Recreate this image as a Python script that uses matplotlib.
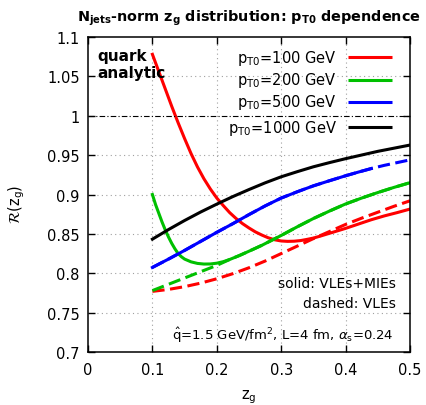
import matplotlib
matplotlib.use("Agg")
import matplotlib.pyplot as plt
import numpy as np

# z_g の値と各 p_T0 の比 R(z_g)
# 実線: VLEs+MIEs, 破線: VLEs のみ
z_100_full = [0.10, 0.11, 0.12, 0.13, 0.14, 0.15, 0.16, 0.17, 0.18, 0.19,
              0.20, 0.21, 0.22, 0.23, 0.24, 0.25, 0.26, 0.27, 0.28, 0.29,
              0.30, 0.31, 0.32, 0.33, 0.34, 0.35, 0.36, 0.37, 0.38, 0.39,
              0.40, 0.42, 0.44, 0.46, 0.48, 0.50]
r_100_full = [1.078, 1.056, 1.034, 1.012, 0.991, 0.971, 0.952, 0.935, 0.920, 0.907,
              0.8955, 0.886, 0.877, 0.8695, 0.863, 0.8575, 0.8525, 0.8485, 0.845, 0.8425,
              0.841, 0.8405, 0.8407, 0.8415, 0.843, 0.8447, 0.847, 0.8495, 0.852, 0.8545,
              0.857, 0.8625, 0.868, 0.8728, 0.877, 0.8815]

z_100_vle = [0.100, 0.125, 0.150, 0.175, 0.200, 0.225, 0.250, 0.275, 0.300,
             0.325, 0.350, 0.375, 0.400, 0.425, 0.450, 0.475, 0.500]
r_100_vle = [0.777, 0.7795, 0.783, 0.7875, 0.793, 0.7995, 0.807, 0.8155, 0.825,
             0.8345, 0.844, 0.853, 0.862, 0.870, 0.8775, 0.885, 0.892]

z_200_full = [0.100, 0.105, 0.110, 0.115, 0.120, 0.125, 0.130, 0.135, 0.140, 0.145,
              0.150, 0.160, 0.170, 0.180, 0.190, 0.200, 0.210, 0.220, 0.235, 0.250,
              0.270, 0.300, 0.325, 0.350, 0.375, 0.400, 0.425, 0.450, 0.475, 0.500]
r_200_full = [0.900, 0.887, 0.876, 0.865, 0.855, 0.846, 0.838, 0.831, 0.825, 0.821,
              0.818, 0.8145, 0.8125, 0.8117, 0.8118, 0.8128, 0.8147, 0.8175, 0.8225, 0.828,
              0.8355, 0.848, 0.859, 0.8695, 0.879, 0.888, 0.8955, 0.9025, 0.909, 0.915]

z_200_vle = [0.100, 0.125, 0.150, 0.175, 0.200, 0.220, 0.235, 0.250, 0.270, 0.300,
             0.325, 0.350, 0.375, 0.400, 0.425, 0.450, 0.475, 0.500]
r_200_vle = [0.778, 0.786, 0.794, 0.802, 0.810, 0.8175, 0.8225, 0.828, 0.8355, 0.848,
             0.859, 0.8695, 0.879, 0.888, 0.8955, 0.9025, 0.909, 0.915]

z_500_full = [0.100, 0.125, 0.150, 0.175, 0.200, 0.225, 0.250, 0.275, 0.300,
              0.325, 0.350, 0.375, 0.400, 0.420, 0.440]
r_500_full = [0.8074, 0.818, 0.829, 0.8405, 0.852, 0.863, 0.8745, 0.8855, 0.8955,
              0.9035, 0.911, 0.9175, 0.9238, 0.9285, 0.933]

z_500_vle = [0.100, 0.125, 0.150, 0.175, 0.200, 0.225, 0.250, 0.275, 0.300,
             0.325, 0.350, 0.375, 0.400, 0.420, 0.440, 0.460, 0.480, 0.500]
r_500_vle = [0.8074, 0.818, 0.829, 0.8405, 0.852, 0.863, 0.8745, 0.8855, 0.8955,
             0.9035, 0.911, 0.9175, 0.9238, 0.9285, 0.933, 0.937, 0.9405, 0.944]

z_1000_full = [0.100, 0.125, 0.150, 0.175, 0.200, 0.225, 0.250, 0.275, 0.300,
               0.325, 0.350, 0.375, 0.400, 0.450, 0.500]
r_1000_full = [0.8433, 0.8555, 0.867, 0.8778, 0.8878, 0.8974, 0.9063, 0.9148, 0.9225,
               0.929, 0.9352, 0.9405, 0.9455, 0.9548, 0.9628]

pt_labels = ['100', '200', '500', '1000']
colors = ['#ff0000', '#00c000', '#0000ff', '#000000']

plt.rcParams['font.family'] = ['DejaVu Sans']
plt.rcParams['mathtext.fontset'] = 'dejavusans'

fig = plt.figure(figsize=(4.26, 4.06), dpi=100)
ax = fig.add_axes([0.2066, 0.1305, 0.7558, 0.7759])

lw = 2.2
dash = (4, 1.8)

# 破線 (VLEs) を先に描く
ax.plot(z_100_vle, r_100_vle, color=colors[0], lw=lw, dashes=dash)
ax.plot(z_500_vle, r_500_vle, color=colors[2], lw=lw, dashes=dash)

# 実線 (VLEs+MIEs)
ax.plot(z_100_full, r_100_full, color=colors[0], lw=lw)
ax.plot(z_200_full, r_200_full, color=colors[1], lw=lw)
ax.plot(z_500_full, r_500_full, color=colors[2], lw=lw)
ax.plot(z_1000_full, r_1000_full, color=colors[3], lw=lw)
ax.plot(z_200_vle, r_200_vle, color=colors[1], lw=lw, dashes=dash)

# 基準線 R=1
ax.axhline(1.0, color='black', lw=0.8, dashes=(5, 2, 1, 2))

ax.set_xlim(0, 0.5)
ax.set_ylim(0.7, 1.1)
ax.set_xticks(np.arange(0, 0.51, 0.1))
ax.set_xticklabels(['0', '0.1', '0.2', '0.3', '0.4', '0.5'])
ax.set_yticks(np.arange(0.7, 1.101, 0.05))
ax.set_yticklabels(['0.7', '0.75', '0.8', '0.85', '0.9', '0.95', '1', '1.05', '1.1'])
ax.tick_params(direction='in', length=5, width=1.0, top=True, right=True,
               labelsize=10.5)
ax.tick_params(axis='y', pad=6)
ax.tick_params(axis='x', pad=7)
for s in ax.spines.values():
    s.set_linewidth(1.1)

# グリッド (1.0 は基準線があるので除く)
for x in [0.1, 0.2, 0.3, 0.4]:
    ax.axvline(x, color='#a0a0a0', lw=0.8, dashes=(1, 3), zorder=0)
for y in [0.75, 0.8, 0.85, 0.9, 0.95, 1.05]:
    ax.axhline(y, color='#a0a0a0', lw=0.8, dashes=(1, 3), zorder=0)

ax.set_xlabel(r'z$_\mathregular{g}$', fontsize=10.5)
ax.xaxis.set_label_coords(0.5, -0.112)
ax.set_ylabel(r'$\mathcal{R}(\mathregular{z_g})$', fontsize=10.5)
ax.yaxis.set_label_coords(-0.19, 0.473)

ax.set_title(r'$\mathbf{N_{jets}}$-norm $\mathbf{z_g}$ distribution: $\mathbf{p_{T0}}$ dependence',
             fontsize=10.4, fontweight='bold', pad=12)

ax.text(0.028, 0.965, 'quark\nanalytic', transform=ax.transAxes, fontsize=11,
        fontweight='bold', va='top', ha='left', linespacing=1.2)

# 凡例 (テキストの右に線)
leg_y = [0.936, 0.865, 0.795, 0.714]
for lab, c, yy in zip(pt_labels, colors, leg_y):
    ax.text(0.773, yy, r'p$_\mathregular{T0}$=' + lab + ' GeV', transform=ax.transAxes,
            fontsize=10.5, ha='right', va='center')
    ax.plot([0.807, 0.944], [yy, yy], color=c, lw=lw, transform=ax.transAxes,
            solid_capstyle='butt')

ax.text(0.955, 0.219, 'solid: VLEs+MIEs', transform=ax.transAxes, fontsize=10,
        ha='right', va='center')
ax.text(0.955, 0.156, 'dashed: VLEs', transform=ax.transAxes, fontsize=10,
        ha='right', va='center')
ax.text(0.947, 0.057,
        r'$\mathregular{\hat{q}}$=1.5 GeV/fm$^\mathregular{2}$, L=4 fm, $\alpha_\mathregular{s}$=0.24',
        transform=ax.transAxes, fontsize=9.5, ha='right', va='center')

fig.savefig('out.png', dpi=100)
